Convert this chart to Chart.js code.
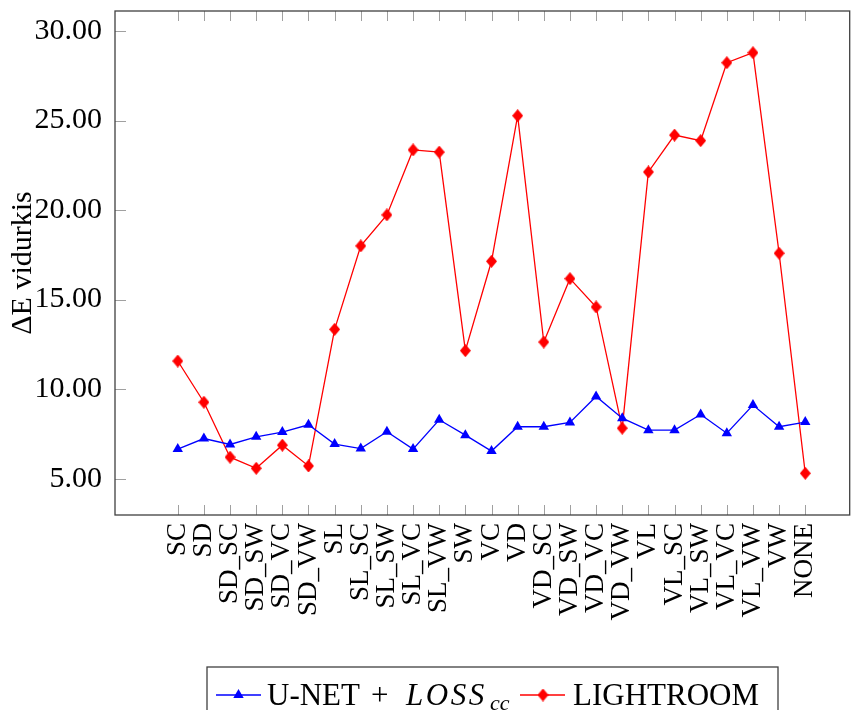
<!DOCTYPE html>
<html>
<head>
<meta charset="utf-8">
<script src="https://cdn.jsdelivr.net/npm/chart.js@4.4.1/dist/chart.umd.min.js"></script>
<style>
  html, body { margin: 0; padding: 0; background: #fff; overflow: hidden; }
</style>
</head>
<body>
<canvas id="chart" width="857" height="710"></canvas>
<script>
// --- DATA ---
const categories = ['SC', 'SD', 'SD_SC', 'SD_SW', 'SD_VC', 'SD_VW', 'SL', 'SL_SC', 'SL_SW', 'SL_VC', 'SL_VW',
    'SW', 'VC', 'VD', 'VD_SC', 'VD_SW', 'VD_VC', 'VD_VW', 'VL', 'VL_SC', 'VL_SW', 'VL_VC', 'VL_VW', 'VW', 'NONE'];
const unetValues = [6.65, 7.24, 6.91, 7.34, 7.60, 8.01, 6.93, 6.68, 7.62, 6.65, 8.29,
    7.43, 6.54, 7.90, 7.90, 8.14, 9.59, 8.38, 7.71, 7.71, 8.58, 7.54, 9.11, 7.90, 8.16];
const lightroomValues = [11.57, 9.27, 6.20, 5.58, 6.87, 5.71, 13.34, 18.00, 19.73, 23.36, 23.24,
    12.15, 17.14, 25.27, 12.63, 16.17, 14.59, 7.82, 22.13, 24.19, 23.88, 28.23, 28.79, 17.59, 5.30];
const yTicks = [5, 10, 15, 20, 25, 30];
const seriesNames = ['U-NET + ', 'LIGHTROOM'];

const SERIF = '"Liberation Serif", "DejaVu Serif", serif';
const BLUE = '#0000ff', RED = '#ff0000';

// pgfplots style diamond (a bit taller than wide)
function diamond(w, h, color) {
    const c = document.createElement('canvas');
    c.width = w; c.height = h;
    const g = c.getContext('2d');
    g.fillStyle = color;
    g.beginPath();
    g.moveTo(w / 2, 0); g.lineTo(w, h / 2); g.lineTo(w / 2, h); g.lineTo(0, h / 2);
    g.closePath(); g.fill();
    return c;
}
const redDiamond = diamond(11, 13, RED);

// --- FRAME & INWARD TICKS ---
const framePlugin = {
    id: 'frame',
    afterDraw(chart) {
        const { ctx, chartArea: a, scales: { x, y } } = chart;
        ctx.save();
        ctx.strokeStyle = '#a0a0a0';
        ctx.lineWidth = 1;
        ctx.beginPath();
        categories.forEach((_, i) => {
            const px = Math.round(x.getPixelForValue(i)) + 0.5;
            ctx.moveTo(px, a.bottom); ctx.lineTo(px, a.bottom - 10);
            ctx.moveTo(px, a.top); ctx.lineTo(px, a.top + 10);
        });
        yTicks.forEach(v => {
            const py = Math.round(y.getPixelForValue(v)) + 0.5;
            ctx.moveTo(a.left, py); ctx.lineTo(a.left + 11, py);
        });
        ctx.stroke();
        ctx.strokeStyle = '#404040';
        ctx.lineWidth = 1.3;
        ctx.strokeRect(a.left, a.top, a.right - a.left, a.bottom - a.top);
        ctx.restore();
    }
};

// --- LEGEND (italic LOSS with subscript) ---
const legendPlugin = {
    id: 'texLegend',
    afterDraw(chart) {
        const ctx = chart.ctx;
        const left = 207, right = 778, top = 667, cy = 695, base = 705;
        ctx.save();
        const upright = '31px ' + SERIF, italic = 'italic 31px ' + SERIF, sub = 'italic 22px ' + SERIF;

        // U-NET sample
        ctx.strokeStyle = BLUE; ctx.lineWidth = 1.3;
        ctx.beginPath(); ctx.moveTo(216, cy); ctx.lineTo(261, cy); ctx.stroke();
        ctx.fillStyle = BLUE;
        const r = 6, tx = 238.5;
        ctx.beginPath();
        ctx.moveTo(tx, cy - r);
        ctx.lineTo(tx + r * Math.sin(2 * Math.PI / 3), cy + r / 2);
        ctx.lineTo(tx - r * Math.sin(2 * Math.PI / 3), cy + r / 2);
        ctx.closePath(); ctx.fill();

        ctx.fillStyle = '#000';
        ctx.textBaseline = 'alphabetic';
        ctx.font = upright; ctx.fillText('U-NET', 267, base);
        ctx.fillText('+', 371, base);
        ctx.font = italic;
        ctx.letterSpacing = '2.5px';
        ctx.fillText('LOSS', 406, base);
        ctx.letterSpacing = '0px';
        ctx.font = sub; ctx.fillText('cc', 490, base + 5);

        // LIGHTROOM sample
        ctx.strokeStyle = RED;
        ctx.beginPath(); ctx.moveTo(520, cy); ctx.lineTo(565, cy); ctx.stroke();
        ctx.drawImage(redDiamond, 543 - redDiamond.width / 2, cy - redDiamond.height / 2);
        ctx.fillStyle = '#000';
        ctx.font = upright;
        ctx.fillText(seriesNames[1], 573, base, 192);

        ctx.strokeStyle = '#404040'; ctx.lineWidth = 1.3;
        ctx.strokeRect(left, top, right - left, 60);
        ctx.restore();
    }
};

const toPoints = arr => arr.map((v, i) => ({ x: i, y: v }));

new Chart(document.getElementById('chart'), {
    type: 'line',
    data: {
        datasets: [
            { label: 'U-NET + LOSS_cc', data: toPoints(unetValues), borderColor: BLUE, backgroundColor: BLUE,
              borderWidth: 1.3, pointStyle: 'triangle', pointRadius: 6, pointBorderWidth: 0, tension: 0 },
            { label: 'LIGHTROOM', data: toPoints(lightroomValues), borderColor: RED, backgroundColor: RED,
              borderWidth: 1.3, pointStyle: redDiamond, pointRadius: 6, tension: 0 }
        ]
    },
    options: {
        responsive: false,
        animation: false,
        events: [],
        layout: { padding: { top: 11, right: 2, left: 0, bottom: 0 } },
        plugins: { legend: { display: false }, tooltip: { enabled: false } },
        scales: {
            x: {
                type: 'linear', min: -2.40, max: 25.70,
                afterBuildTicks: s => { s.ticks = categories.map((_, i) => ({ value: i })); },
                afterFit: s => { s.height = 195; s.paddingLeft = 0; s.paddingRight = 0; },
                grid: { display: false, drawTicks: false },
                border: { display: false },
                ticks: { autoSkip: false, minRotation: 90, maxRotation: 90, padding: 8, color: '#000',
                         font: { family: SERIF, size: 27 }, callback: v => categories[v] }
            },
            y: {
                type: 'linear', min: 2.97, max: 31.12,
                afterBuildTicks: s => { s.ticks = yTicks.map(v => ({ value: v })); },
                afterFit: s => { s.width = 115; s.paddingTop = 0; s.paddingBottom = 0; },
                grid: { display: false, drawTicks: false },
                border: { display: false },
                ticks: { padding: 13, color: '#000', font: { family: SERIF, size: 30 }, callback: v => v.toFixed(2) },
                title: { display: true, text: 'ΔE vidurkis', color: '#000', font: { family: SERIF, size: 30 },
                         padding: { top: 5, bottom: 0 } }
            }
        }
    },
    plugins: [framePlugin, legendPlugin]
});
</script>
</body>
</html>
